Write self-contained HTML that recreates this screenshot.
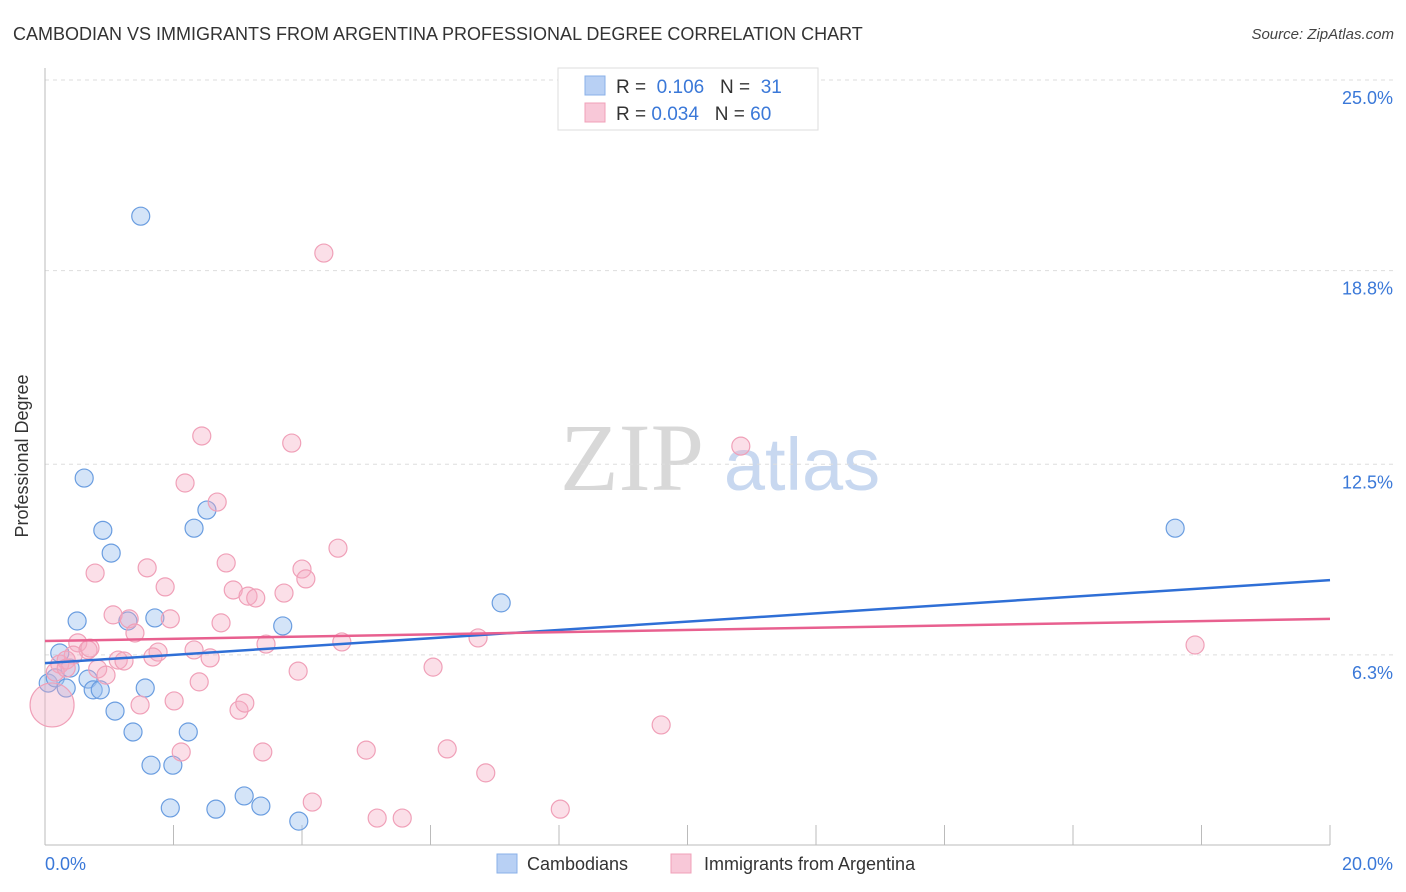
<!DOCTYPE html>
<html><head><meta charset="utf-8"><style>
body{margin:0;background:#fff;font-family:"Liberation Sans",sans-serif;}
svg{display:block}
</style></head><body>
<svg id="chart" width="1406" height="892" xmlns="http://www.w3.org/2000/svg">
<text x="13" y="40" font-size="18" fill="#333">CAMBODIAN VS IMMIGRANTS FROM ARGENTINA PROFESSIONAL DEGREE CORRELATION CHART</text>
<text x="1394" y="39" font-size="15" fill="#444" font-style="italic" text-anchor="end">Source: ZipAtlas.com</text>
<g>
<text x="632" y="490" font-size="96" font-family="Liberation Serif,serif" fill="#d8d8d8" text-anchor="middle">ZIP</text>
<text x="802" y="490" font-size="74" fill="#c8d8f0" text-anchor="middle">atlas</text>
</g>
<g id="grid"></g>
<g id="axes"></g>
<g id="pts"></g>
<g id="lines"></g>
<text x="28" y="456" font-size="18" fill="#333" text-anchor="middle" transform="rotate(-90 28 456)">Professional Degree</text>
<g>
<rect x="558" y="68" width="260" height="62" fill="#fff" stroke="#ddd"/>
<rect x="585" y="76" width="20" height="19" fill="#b8d0f4" stroke="#8ab0e8"/>
<rect x="585" y="103" width="20" height="19" fill="#f8c8d8" stroke="#f0a0b8"/>
<text x="616" y="93" font-size="19" fill="#333">R = <tspan fill="#3a78d8">&#160;0.106</tspan>&#160;&#160;&#160;N = <tspan fill="#3a78d8">&#160;31</tspan></text>
<text x="616" y="120" font-size="19" fill="#333">R = <tspan fill="#3a78d8">0.034</tspan>&#160;&#160;&#160;N = <tspan fill="#3a78d8">60</tspan></text>
</g>
<g>
<rect x="497" y="854" width="20" height="19" fill="#b8d0f4" stroke="#8ab0e8"/>
<text x="527" y="870" font-size="18" fill="#333">Cambodians</text>
<rect x="671" y="854" width="20" height="19" fill="#f8c8d8" stroke="#f0a0b8"/>
<text x="704" y="870" font-size="18" fill="#333">Immigrants from Argentina</text>
</g>
</svg>
<script>
const yTicks=[25.0,18.8,12.5,6.3];
const yTickLabels=["25.0%","18.8%","12.5%","6.3%"];
const xTickLabels=["0.0%","20.0%"];
const blueX=[1.49,0.61,0.90,1.03,2.32,2.52,0.50,1.29,1.71,3.70,7.10,17.59,0.23,0.05,0.16,0.33,0.39,0.67,0.75,0.86,1.56,1.09,1.37,2.23,1.65,1.99,1.95,2.66,3.10,3.36,3.95];
const blueY=[20.57,12.05,10.35,9.61,10.42,11.01,7.40,7.40,7.50,7.24,7.99,10.42,6.36,5.38,5.55,5.22,5.87,5.51,5.16,5.16,5.22,4.47,3.79,3.79,2.71,2.71,1.32,1.28,1.71,1.38,0.89];
const pinkX=[4.34,2.44,3.84,10.83,2.18,2.68,4.56,0.78,1.59,2.82,1.87,4.00,4.06,2.93,3.16,3.28,3.72,1.06,1.31,1.95,2.74,1.40,0.51,0.67,4.62,6.74,17.90,3.44,2.32,1.76,1.68,0.44,0.23,0.33,1.14,1.23,0.82,0.95,2.57,3.94,6.04,2.40,2.01,1.48,3.02,3.11,9.59,3.39,2.12,5.00,6.26,6.86,4.16,8.02,5.17,5.56,0.16,0.70,0.33,0.11];
const pinkY=[19.37,13.42,13.19,13.09,11.89,11.27,9.77,8.96,9.13,9.29,8.51,9.09,8.77,8.41,8.21,8.15,8.31,7.60,7.47,7.47,7.34,7.01,6.69,6.46,6.72,6.85,6.62,6.65,6.46,6.39,6.23,6.29,6.00,6.13,6.13,6.10,5.84,5.64,6.20,5.77,5.90,5.42,4.80,4.67,4.50,4.73,4.02,3.14,3.14,3.20,3.24,2.46,1.51,1.28,0.99,0.99,5.74,6.52,5.87,4.67];
const pinkR=[9,9,9,9,9,9,9,9,9,9,9,9,9,9,9,9,9,9,9,9,9,9,9,9,9,9,9,9,9,9,9,9,9,9,9,9,9,9,9,9,9,9,9,9,9,9,9,9,9,9,9,9,9,9,9,9,9,9,9,22];
const blueTrend=[6.03,8.73];
const pinkTrend=[6.75,7.47];
const X0=45,X1=1330,XMAX=20,YB=848.5,YS=30.74;
const sx=v=>X0+v/XMAX*(X1-X0);
const sy=v=>YB-v*YS;
const NS="http://www.w3.org/2000/svg";
function mk(tag,attrs,parent){const e=document.createElementNS(NS,tag);for(const k in attrs)e.setAttribute(k,attrs[k]);parent.appendChild(e);return e;}
const grid=document.getElementById('grid'),axes=document.getElementById('axes'),pts=document.getElementById('pts'),lines=document.getElementById('lines');
yTicks.forEach((t,i)=>{
  const l=mk('line',{x1:45,x2:1395,y1:sy(t),y2:sy(t),stroke:'#ddd','stroke-dasharray':'4 4'},grid);
  
  
  const tx=mk('text',{x:1393,y:sy(t)+24,'font-size':18,fill:'#3a78d8','text-anchor':'end'},grid);
  tx.textContent=yTickLabels[i];
  
  
});
const ya=mk('line',{x1:45,x2:45,y1:68,y2:845,stroke:'#bbb'},axes);


const xa=mk('line',{x1:45,x2:1330,y1:845,y2:845,stroke:'#bbb'},axes);


for(let i=0;i<=10;i++){
  const x=sx(i*2);
  const t=mk('line',{x1:x,x2:x,y1:825,y2:845,stroke:'#bbb'},axes);
  
  
}
[[0,'start',45],[20,'end',1393]].forEach((d,i)=>{
  const t=mk('text',{x:d[2],y:870,'font-size':18,fill:'#3a78d8','text-anchor':d[1]},axes);
  t.textContent=xTickLabels[i];
  
  
});
blueX.forEach((v,i)=>{
  const c=mk('circle',{cx:sx(v),cy:sy(blueY[i]),r:9,fill:'rgba(160,196,240,0.45)',stroke:'#6a9de0','stroke-width':1.2},pts);
  
  
});
pinkX.forEach((v,i)=>{
  const c=mk('circle',{cx:sx(v),cy:sy(pinkY[i]),r:pinkR[i],fill:'rgba(245,170,195,0.38)',stroke:'#f0a0b8','stroke-width':1.2},pts);
  
  
});
const bl=mk('line',{x1:sx(0),x2:sx(20),y1:sy(blueTrend[0]),y2:sy(blueTrend[1]),stroke:'#2f6fd6','stroke-width':2.5},lines);


const pl=mk('line',{x1:sx(0),x2:sx(20),y1:sy(pinkTrend[0]),y2:sy(pinkTrend[1]),stroke:'#e8608f','stroke-width':2.5},lines);


</script>
</body></html>
